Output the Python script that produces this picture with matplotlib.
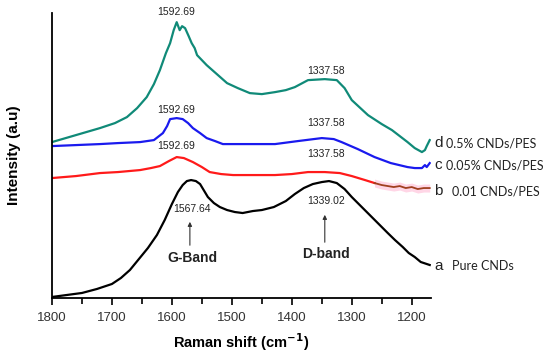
import numpy as np
import matplotlib
matplotlib.use('Agg')
import matplotlib.pyplot as plt
from matplotlib.ticker import MultipleLocator

# curve a: pure CNDs
wa = [1800, 1775, 1750, 1725, 1700, 1685, 1670, 1655, 1640, 1625, 1612, 1600, 1590, 1582,
      1575, 1568, 1560, 1553, 1547, 1540, 1530, 1520, 1508, 1495, 1482, 1465, 1450, 1430,
      1410, 1395, 1380, 1365, 1350, 1338, 1325, 1312, 1300, 1285, 1270, 1255, 1240, 1228,
      1215, 1205, 1195, 1185, 1175, 1170]
ia = [1, 3, 5, 9, 14, 20, 28, 39, 50, 63, 78, 94, 106, 113,
      117, 118, 117, 114, 108, 101, 95, 91, 88, 86, 85, 87, 88, 91,
      97, 104, 110, 114, 116, 117, 115, 109, 101, 92, 83, 74, 65, 58,
      51, 45, 41, 36, 34, 33]

# curve b: 0.01 CNDs/PES
wb = [1800, 1760, 1720, 1690, 1653, 1635, 1620, 1605, 1592, 1580, 1565, 1550, 1537,
      1518, 1498, 1470, 1428, 1400, 1373, 1345, 1320, 1300, 1278, 1262]
ib = [120, 122, 125, 126, 128, 130, 132, 137, 141, 140, 136, 131, 126,
      124, 123, 123, 123, 124, 126, 126, 125, 122, 118, 115]
# faded tail of curve b
wb_tail = [1262, 1250, 1240, 1230, 1220, 1210, 1200, 1190, 1180, 1170]
ib_tail = [115, 113, 112, 111, 112, 110, 111, 109, 110, 110]

# curve c: 0.05% CNDs/PES
wc = [1800, 1760, 1720, 1690, 1653, 1630, 1615, 1608, 1603, 1592, 1582, 1573, 1565,
      1553, 1542, 1528, 1515, 1480, 1428, 1390, 1350, 1330, 1317, 1290, 1262, 1235,
      1207, 1195, 1183, 1178, 1175, 1170]
ic = [152, 153, 154, 155, 156, 158, 165, 172, 179, 180, 179, 175, 170,
      165, 160, 157, 154, 154, 154, 157, 160, 159, 156, 149, 141, 135,
      131, 130, 130, 133, 131, 135]

# curve d: 0.5% CNDs/PES
wd = [1800, 1760, 1720, 1695, 1675, 1658, 1642, 1630, 1620, 1610, 1603, 1597, 1592,
      1587, 1583, 1578, 1572, 1567, 1562, 1558, 1550, 1542, 1525, 1508, 1490, 1470,
      1450, 1428, 1410, 1395, 1373, 1345, 1325, 1312, 1300, 1273, 1250, 1233, 1207,
      1195, 1183, 1178, 1175, 1170]
idd = [156, 163, 170, 175, 181, 190, 201, 214, 228, 245, 255, 268, 276,
       268, 272, 270, 262, 255, 250, 243, 238, 233, 224, 215, 210, 205,
       204, 206, 208, 211, 218, 219, 218, 210, 198, 183, 174, 168, 156,
       150, 146, 148, 152, 158]

peak_labels = ['1592.69', '1337.58']
curve_labels = [('d', '0.5% CNDs/PES'), ('c', '0.05% CNDs/PES'),
                ('b', '0.01 CNDs/PES'), ('a', 'Pure CNDs')]

plt.rcParams['font.family'] = ['Liberation Sans', 'DejaVu Sans']

fig = plt.figure(figsize=(5.5, 3.56), dpi=100)
ax = fig.add_axes([0.0945, 0.163, 0.689, 0.80])

ax.plot(wa, ia, color='black', lw=1.6)
ax.fill_between(wb_tail, np.array(ib_tail) - 4, np.array(ib_tail) + 4, color='#ffd6e6', lw=0)
ax.plot(wb, ib, color='#ff1a1a', lw=1.6)
ax.plot(wb_tail, ib_tail, color='#a0401f', lw=1.3)
ax.plot(wc, ic, color='#1a1aee', lw=1.6)
ax.plot(wd, idd, color='#108a78', lw=1.6)

ax.set_xlim(1800, 1168)
ax.set_ylim(0, 285)
ax.spines['top'].set_visible(False)
ax.spines['right'].set_visible(False)
ax.spines['left'].set_linewidth(1.3)
ax.spines['bottom'].set_linewidth(1.3)
ax.set_yticks([])
ax.xaxis.set_major_locator(MultipleLocator(100))
ax.xaxis.set_minor_locator(MultipleLocator(50))
ax.tick_params(axis='x', which='major', length=5, width=1.2, labelsize=9.5,
               labelcolor='#333333', pad=5)
ax.tick_params(axis='x', which='minor', length=4, width=1.2)

ax.set_xlabel('Raman shift (cm$^{\\mathbf{-1}}$)', fontsize=10.5, fontweight='bold', labelpad=5)
ax.set_ylabel('Intensity (a.u)', fontsize=11, fontweight='bold', labelpad=22)

# peak annotations
for y1, y2 in [(285, 219), (187, 167), (151, 136)]:
    ax.text(1592.69, y1 - 4, peak_labels[0], ha='center', va='bottom', fontsize=7.5, color='#222222')
    ax.text(1337.58 + 5, y2 + 3, peak_labels[1], ha='center', va='bottom', fontsize=7.5, color='#222222')

ax.text(1566, 89, '1567.64', ha='center', va='center', fontsize=7.5, color='#222222')
ax.annotate('', xy=(1570, 79), xytext=(1570, 50),
            arrowprops=dict(arrowstyle='-|>', color='#333333', lw=0.8, mutation_scale=6))
ax.text(1566, 40, 'G-Band', ha='center', va='center', fontsize=10, fontweight='bold', color='#222222')

ax.text(1343, 97, '1339.02', ha='center', va='center', fontsize=7.5, color='#222222')
ax.annotate('', xy=(1345, 86), xytext=(1345, 53),
            arrowprops=dict(arrowstyle='-|>', color='#333333', lw=0.8, mutation_scale=6))
ax.text(1343, 44, 'D-band', ha='center', va='center', fontsize=10, fontweight='bold', color='#222222')

# curve labels on the right
for (letter, name), y, xn in zip(curve_labels, [155, 133, 107, 32], [1143, 1143, 1133, 1133]):
    ax.text(1162, y, letter, ha='left', va='center', fontsize=11, color='#222222', clip_on=False)
    ax.text(xn, y, name, ha='left', va='center', fontsize=9, family=['Lato', 'DejaVu Sans'],
            color='#222222', clip_on=False)

fig.savefig('out.png', dpi=100)
